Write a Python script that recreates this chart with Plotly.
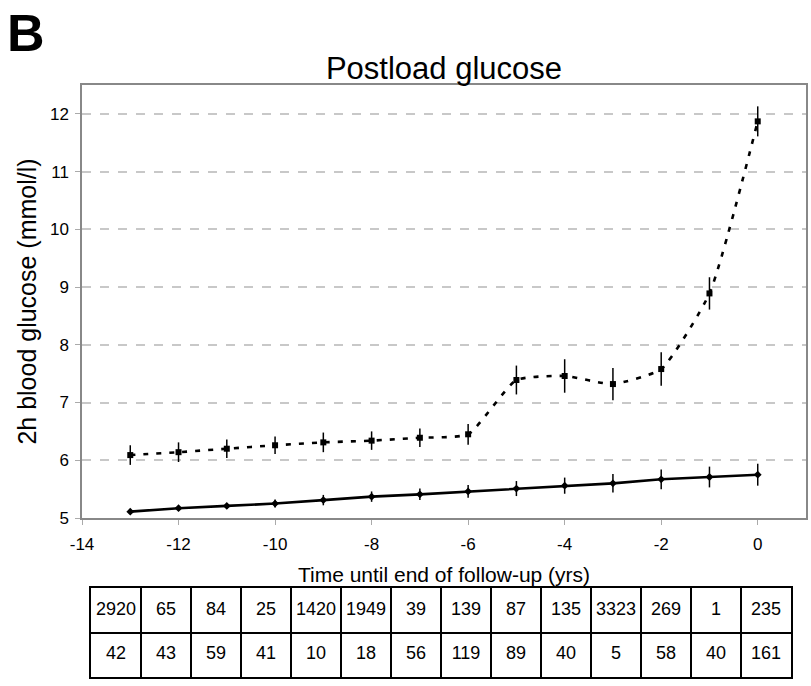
import plotly.graph_objects as go

# Years until end of follow-up
years = [-13, -12, -11, -10, -9, -8, -7, -6, -5, -4, -3, -2, -1, 0]

# 2h postload glucose (mmol/l) and error margins
glucose_no_diabetes = [5.11, 5.17, 5.21, 5.25, 5.31, 5.37, 5.41, 5.46, 5.51, 5.56, 5.60, 5.67, 5.71, 5.75]
err_no_diabetes = [0.03, 0.04, 0.05, 0.07, 0.09, 0.09, 0.10, 0.11, 0.13, 0.14, 0.16, 0.17, 0.18, 0.19]

glucose_diabetes = [6.09, 6.14, 6.20, 6.26, 6.31, 6.34, 6.39, 6.45, 7.39, 7.46, 7.32, 7.58, 8.89, 11.87]
err_diabetes = [0.17, 0.17, 0.16, 0.15, 0.17, 0.16, 0.16, 0.18, 0.25, 0.29, 0.28, 0.29, 0.28, 0.26]

# Participants per year (two rows of the count table)
counts_row1 = [2920, 65, 84, 25, 1420, 1949, 39, 139, 87, 135, 3323, 269, 1, 235]
counts_row2 = [42, 43, 59, 41, 10, 18, 56, 119, 89, 40, 5, 58, 40, 161]

x_ticks = [-14, -12, -10, -8, -6, -4, -2, 0]
x_ticktext = ["-14", "-12", "-10", "-8", "-6", "-4", "-2", "0"]
y_ticks = [5, 6, 7, 8, 9, 10, 11, 12]

FONT = "Liberation Sans, Arial, sans-serif"
W, H = 811, 686

fig = go.Figure()

# Main chart
fig.add_trace(go.Scatter(
    x=years, y=glucose_diabetes,
    mode="lines+markers",
    line=dict(color="black", width=2.6, dash="5px,8px", shape="spline", smoothing=0.5),
    marker=dict(symbol="square", size=6, color="black"),
    error_y=dict(type="data", array=err_diabetes, color="black", thickness=1.5, width=0),
    showlegend=False,
))

fig.add_trace(go.Scatter(
    x=years, y=glucose_no_diabetes,
    mode="lines+markers",
    line=dict(color="black", width=2.6),
    marker=dict(symbol="diamond", size=6, color="black"),
    error_y=dict(type="data", array=err_no_diabetes, color="black", thickness=1.5, width=0),
    showlegend=False,
))

# Count table: one column per year, two rows; cell borders are the grid of a second axis pair
n_cols = len(counts_row1)
fig.add_trace(go.Scatter(
    x=years + years,
    y=[1.5] * n_cols + [0.5] * n_cols,
    text=[str(v) for v in counts_row1] + [str(v) for v in counts_row2],
    mode="text",
    textposition="middle center",
    textfont=dict(family=FONT, size=18, color="black"),
    xaxis="x2", yaxis="y2",
    showlegend=False,
    hoverinfo="skip",
))

fig.update_layout(
    width=W, height=H,
    margin=dict(l=0, r=0, t=0, b=0),
    paper_bgcolor="white",
    plot_bgcolor="white",
    font=dict(family=FONT, color="black"),
    title=dict(
        text="Postload glucose",
        x=444 / W, xanchor="center",
        y=1 - 68 / H, yanchor="middle",
        font=dict(family=FONT, size=31, color="black"),
    ),
    xaxis=dict(
        domain=[82 / W, 806 / W],
        range=[-14, 1],
        tickvals=x_ticks, ticktext=x_ticktext,
        automargin=False,
        showgrid=False, zeroline=False,
        showline=True, mirror=True, linecolor="#888888", linewidth=1.5,
        ticks="outside", ticklen=5, tickcolor="#aaaaaa", tickwidth=1,
        ticklabelstandoff=5,
        tickfont=dict(size=17, color="black"),
        title=dict(text="Time until end of follow-up (yrs)", font=dict(size=21, color="black"), standoff=14),
    ),
    yaxis=dict(
        domain=[(H - 518) / H, (H - 85) / H],
        range=[5, 12.5],
        tickvals=y_ticks,
        automargin=False,
        showgrid=True, gridcolor="#c8c8c8", gridwidth=1.5, griddash="9px,9px",
        zeroline=False,
        showline=True, mirror=True, linecolor="#888888", linewidth=1.5,
        ticks="outside", ticklen=5, tickcolor="#aaaaaa", tickwidth=1,
        ticklabelstandoff=3,
        tickfont=dict(size=17, color="black"),
        title=dict(text="2h blood glucose (mmol/l)", font=dict(size=25, color="black"), standoff=6),
    ),
    xaxis2=dict(
        domain=[91 / W, 791 / W],
        anchor="y2",
        range=[years[0] - 0.5, years[-1] + 0.5],
        tickvals=[y - 0.5 for y in years[1:]],
        showticklabels=False, ticks="",
        showgrid=True, gridcolor="black", gridwidth=1.5,
        zeroline=False,
        showline=True, mirror=True, linecolor="black", linewidth=2,
        automargin=False, fixedrange=True,
    ),
    yaxis2=dict(
        domain=[(H - 677) / H, (H - 588) / H],
        anchor="x2",
        range=[0, 2],
        tickvals=[1],
        showticklabels=False, ticks="",
        showgrid=True, gridcolor="black", gridwidth=1.5,
        zeroline=False,
        showline=True, mirror=True, linecolor="black", linewidth=2,
        automargin=False, fixedrange=True,
    ),
    annotations=[dict(
        text="<b>B</b>", xref="paper", yref="paper",
        x=5 / W, y=1 - 2 / H, xanchor="left", yanchor="top",
        showarrow=False, font=dict(family=FONT, size=52, color="black"),
    )],
)

fig.write_html("out.html")
